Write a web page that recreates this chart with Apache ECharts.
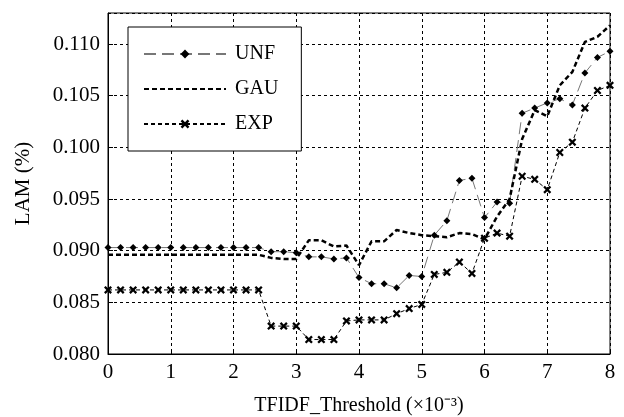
<!DOCTYPE html>
<html>
<head>
<meta charset="utf-8">
<script src="https://cdn.jsdelivr.net/npm/echarts@6/dist/echarts.min.js"></script>
<style>
html,body{margin:0;padding:0;background:#fff;}
#main{width:624px;height:417px;}
</style>
</head>
<body>
<div id="main"></div>
<script>
// TFIDF threshold (x10^-3)
var thresholds = [0, 0.2, 0.4, 0.6, 0.8, 1.0, 1.2, 1.4, 1.6, 1.8, 2.0, 2.2, 2.4, 2.6, 2.8, 3.0,
	3.2, 3.4, 3.6, 3.8, 4.0, 4.2, 4.4, 4.6, 4.8, 5.0, 5.2, 5.4, 5.6, 5.8, 6.0,
	6.2, 6.4, 6.6, 6.8, 7.0, 7.2, 7.4, 7.6, 7.8, 8.0];

var unf = [0.0903, 0.0903, 0.0903, 0.0903, 0.0903, 0.0903, 0.0903, 0.0903, 0.0903, 0.0903, 0.0903, 0.0903, 0.0903,
	0.0899, 0.0899, 0.0898, 0.0894, 0.0894, 0.0892, 0.0893, 0.0874, 0.0868, 0.0868, 0.0864, 0.0876, 0.0875,
	0.0915, 0.0929, 0.0968, 0.0970, 0.0932, 0.0947, 0.0946, 0.1033, 0.1038, 0.1043, 0.1047, 0.1041,
	0.1072, 0.1087, 0.1093];

var gau = [0.0896, 0.0896, 0.0896, 0.0896, 0.0896, 0.0896, 0.0896, 0.0896, 0.0896, 0.0896, 0.0896, 0.0896, 0.0896,
	0.0893, 0.0892, 0.0892, 0.0910, 0.0910, 0.0904, 0.0905, 0.0886, 0.0909, 0.0909, 0.0920, 0.0917, 0.0915,
	0.0914, 0.0913, 0.0917, 0.0916, 0.0911, 0.0933, 0.0950, 0.1008, 0.1036, 0.1030, 0.1060, 0.1073,
	0.1102, 0.1107, 0.1118];

var exp = [0.0862, 0.0862, 0.0862, 0.0862, 0.0862, 0.0862, 0.0862, 0.0862, 0.0862, 0.0862, 0.0862, 0.0862, 0.0862,
	0.0827, 0.0827, 0.0827, 0.0814, 0.0814, 0.0814, 0.0832, 0.0833, 0.0833, 0.0833, 0.0839, 0.0844, 0.0848,
	0.0877, 0.0879, 0.0889, 0.0878, 0.0912, 0.0917, 0.0914, 0.0972, 0.0969, 0.0959, 0.0995, 0.1005,
	0.1038, 0.1055, 0.1060];

var xTicks = [0, 1, 2, 3, 4, 5, 6, 7, 8];
var yTicks = [0.080, 0.085, 0.090, 0.095, 0.100, 0.105, 0.110];

function pairs(ys) {
	var out = [];
	for (var i = 0; i < thresholds.length; i++) out.push([thresholds[i], ys[i]]);
	return out;
}

var serif = 'Liberation Serif';
var crossPath = 'path://M0,2L2,0L5,3L8,0L10,2L7,5L10,8L8,10L5,7L2,10L0,8L3,5Z';

var myChart = echarts.init(document.getElementById('main'));
var option = {
	backgroundColor: '#fff',
	animation: false,
	grid: {
		left: 108, right: 14, top: 13, bottom: 63,
		outerBoundsMode: 'none',
		show: true, borderColor: '#000', borderWidth: 1, backgroundColor: 'transparent'
	},
	legend: {
		orient: 'vertical',
		left: 128, top: 27,
		backgroundColor: '#fff',
		borderColor: '#000', borderWidth: 1,
		padding: [17, 23, 17, 15],
		itemWidth: 82, itemHeight: 11, itemGap: 15,
		textStyle: { fontFamily: serif, fontSize: 20, color: '#000', padding: [0, 0, 0, 4] },
		data: ['UNF', { name: 'GAU', itemStyle: { opacity: 0 } }, 'EXP']
	},
	xAxis: {
		type: 'value', min: 0, max: 8, interval: 1,
		name: 'TFIDF_Threshold (×10⁻³)', nameLocation: 'middle', nameGap: 42,
		nameTextStyle: { fontFamily: serif, fontSize: 20, color: '#000' },
		axisLine: { lineStyle: { color: '#000', width: 1 } },
		axisTick: { inside: true, length: 5, lineStyle: { color: '#000' } },
		axisLabel: {
			fontFamily: serif, fontSize: 21, color: '#000', margin: 8,
			formatter: function (v) { return xTicks.indexOf(v) >= 0 ? String(v) : ''; }
		},
		splitLine: { show: true, lineStyle: { color: '#000', type: [3, 3], width: 1 } }
	},
	yAxis: {
		type: 'value', min: 0.080, max: 0.113, interval: 0.005,
		name: 'LAM (%)', nameLocation: 'middle', nameGap: 74,
		nameTextStyle: { fontFamily: serif, fontSize: 21, color: '#000' },
		axisLine: { lineStyle: { color: '#000', width: 1 } },
		axisTick: { inside: true, length: 5, lineStyle: { color: '#000' } },
		axisLabel: {
			fontFamily: serif, fontSize: 21, color: '#000', margin: 8,
			showMaxLabel: false,
			formatter: function (v) { return v.toFixed(3); }
		},
		splitLine: { show: true, lineStyle: { color: '#000', type: [3, 3], width: 1 } }
	},
	series: [{
		name: 'UNF', type: 'line', data: pairs(unf),
		symbol: 'diamond', symbolSize: 7,
		itemStyle: { color: '#000' },
		lineStyle: { color: '#777', width: 1, type: [12, 6] }
	}, {
		name: 'GAU', type: 'line', data: pairs(gau),
		symbol: 'none',
		itemStyle: { color: '#000' },
		lineStyle: { color: '#000', width: 2.5, type: [5, 3] }
	}, {
		name: 'EXP', type: 'line', data: pairs(exp),
		symbol: crossPath, symbolSize: 8,
		itemStyle: { color: '#000' },
		lineStyle: { color: '#000', width: 1, type: [4, 3] }
	}]
};
myChart.setOption(option);
</script>
</body>
</html>
